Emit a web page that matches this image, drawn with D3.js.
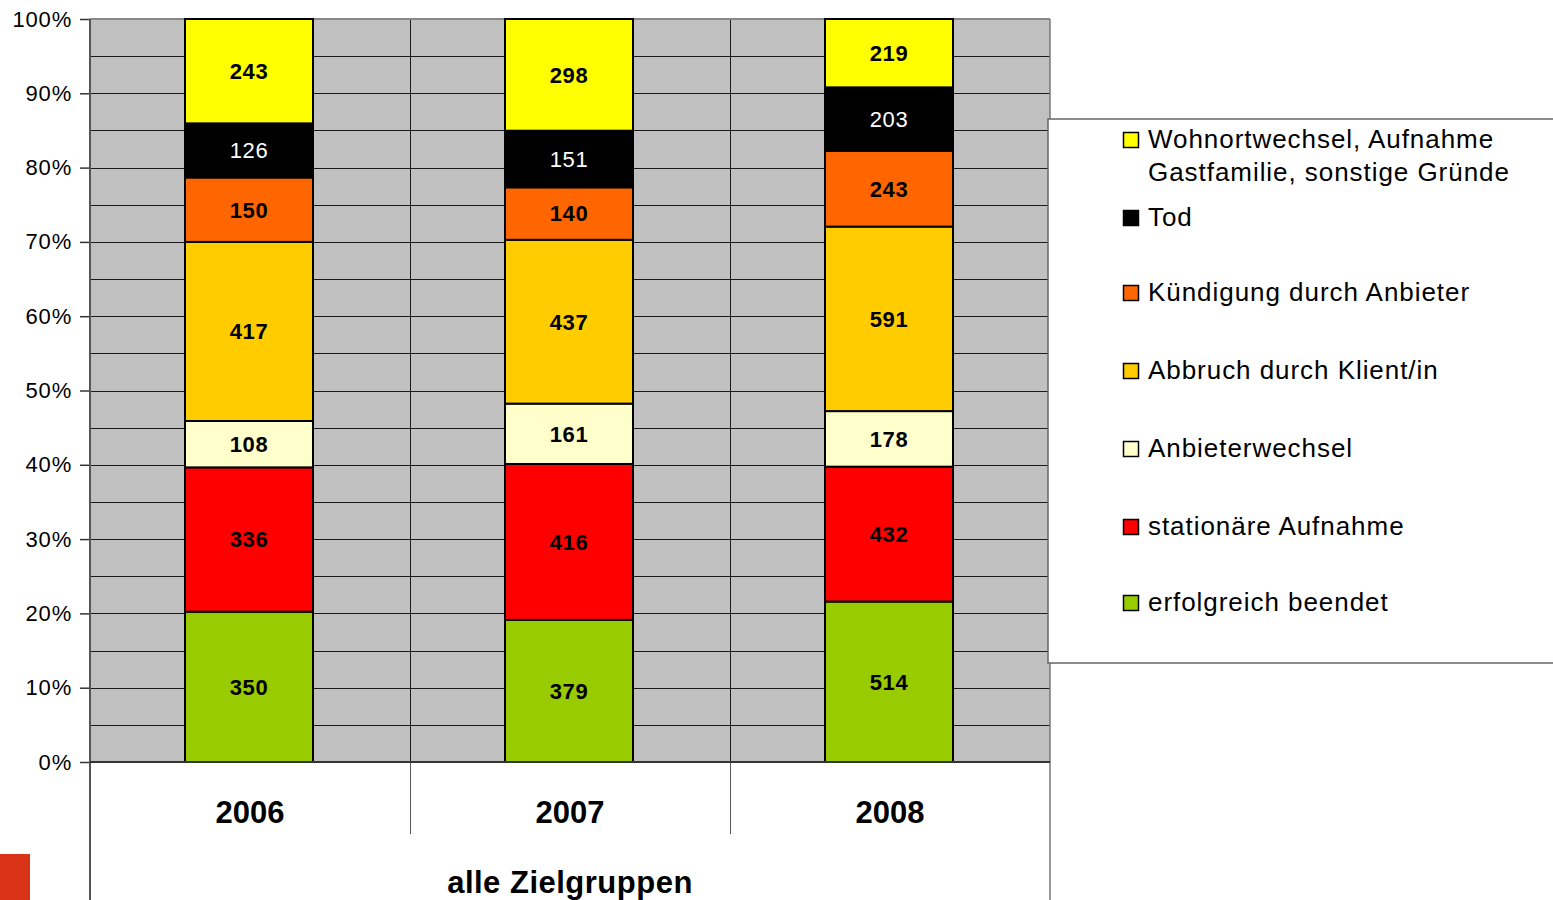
<!DOCTYPE html>
<html>
<head>
<meta charset="utf-8">
<script src="https://cdn.jsdelivr.net/npm/d3@7"></script>
<style>
  body { margin: 0; background: #fff; }
  svg { display: block; font-family: "Liberation Sans", Arial, Helvetica, sans-serif; }
</style>
</head>
<body>
<svg id="chart" width="1553" height="900"></svg>
<script>
// categories (years)
const years = ["2006", "2007", "2008"];

// series, bottom to top
const seriesNames = [
    "erfolgreich beendet",
    "stationäre Aufnahme",
    "Anbieterwechsel",
    "Abbruch durch Klient/in",
    "Kündigung durch Anbieter",
    "Tod",
    "Wohnortwechsel, Aufnahme Gastfamilie, sonstige Gründe"
];
const seriesColors = ["#99cc00", "#ff0000", "#ffffcc", "#ffcc00", "#ff6600", "#000000", "#ffff00"];

// counts per series, one value per year
const erfolgreich = [350, 379, 514];
const stationaer = [336, 416, 432];
const anbieterwechsel = [108, 161, 178];
const abbruch = [417, 437, 591];
const kuendigung = [150, 140, 243];
const tod = [126, 151, 203];
const wohnort = [243, 298, 219];

const yTicks = [0, 0.1, 0.2, 0.3, 0.4, 0.5, 0.6, 0.7, 0.8, 0.9, 1];
const xTitle = "alle Zielgruppen";

const seriesValues = [erfolgreich, stationaer, anbieterwechsel, abbruch, kuendigung, tod, wohnort];

const svg = d3.select("#chart");
const plot = { left: 90, right: 1050, top: 19, bottom: 762 };

const x = d3.scaleBand().domain(years).range([plot.left, plot.right]).paddingInner(0).paddingOuter(0);
const y = d3.scaleLinear().domain([0, 1]).range([plot.bottom, plot.top]);
const barWidth = 128;

// plot background
svg.append("rect")
    .attr("x", plot.left)
    .attr("y", plot.top)
    .attr("width", plot.right - plot.left)
    .attr("height", plot.bottom - plot.top)
    .attr("fill", "#c0c0c0");

// horizontal grid every 5%
const gridValues = d3.range(1, 20).map(d => d * 0.05);
svg.append("g")
    .selectAll("line")
    .data(gridValues)
    .enter()
    .append("line")
    .attr("x1", plot.left)
    .attr("x2", plot.right)
    .attr("y1", d => Math.round(y(d)) + 0.5)
    .attr("y2", d => Math.round(y(d)) + 0.5)
    .attr("stroke", "#1a1a1a")
    .attr("stroke-width", 1);

// vertical category separators (inside plot and below axis)
years.slice(1).forEach(yr => {
    const xx = Math.round(x(yr)) + 0.5;
    svg.append("line")
        .attr("x1", xx).attr("x2", xx)
        .attr("y1", plot.top).attr("y2", plot.bottom)
        .attr("stroke", "#1a1a1a");
    svg.append("line")
        .attr("x1", xx).attr("x2", xx)
        .attr("y1", plot.bottom).attr("y2", 834)
        .attr("stroke", "#555");
});

// plot border top / right
svg.append("line")
    .attr("x1", plot.left).attr("x2", plot.right)
    .attr("y1", plot.top).attr("y2", plot.top)
    .attr("stroke", "#888").attr("stroke-width", 2);
svg.append("line")
    .attr("x1", plot.right).attr("x2", plot.right)
    .attr("y1", plot.top).attr("y2", 900)
    .attr("stroke", "#777").attr("stroke-width", 1.5);

// stacked percentage data
const table = years.map((yr, i) => {
    const row = { year: yr };
    seriesNames.forEach((name, s) => { row[name] = seriesValues[s][i]; });
    return row;
});
const stack = d3.stack().keys(seriesNames).offset(d3.stackOffsetExpand);
const layers = stack(table);

layers.forEach((layer, s) => {
    const g = svg.append("g");
    layer.forEach((d, i) => {
        const cx = x(years[i]) + x.bandwidth() / 2 - 1;
        const y0 = y(d[0]);
        const y1 = y(d[1]);
        g.append("rect")
            .attr("x", cx - barWidth / 2)
            .attr("y", y1)
            .attr("width", barWidth)
            .attr("height", y0 - y1)
            .attr("fill", seriesColors[s])
            .attr("stroke", "#000")
            .attr("stroke-width", 2);
        g.append("text")
            .text(seriesValues[s][i])
            .attr("x", cx)
            .attr("y", (y0 + y1) / 2)
            .attr("dy", "0.36em")
            .attr("text-anchor", "middle")
            .attr("font-size", 22)
            .attr("letter-spacing", 0.6)
            .attr("font-weight", seriesNames[s] == "Tod" ? "normal" : "bold")
            .attr("fill", seriesNames[s] == "Tod" ? "#fff" : "#000");
    });
});

// y axis
const yAxis = svg.append("g")
    .attr("transform", "translate(" + plot.left + ",0)")
    .call(d3.axisLeft(y).tickValues(yTicks).tickFormat(d3.format(".0%")).tickSize(10).tickPadding(8));
yAxis.select(".domain").remove();
yAxis.selectAll(".tick line").attr("stroke", "#333").attr("stroke-width", 1.5);
yAxis.selectAll(".tick text")
    .attr("font-family", "Liberation Sans, Arial, sans-serif")
    .attr("font-size", 22)
    .attr("letter-spacing", 0.8)
    .attr("fill", "#000");

// left axis line running to the bottom
svg.append("line")
    .attr("x1", plot.left).attr("x2", plot.left)
    .attr("y1", plot.top).attr("y2", 900)
    .attr("stroke", "#555").attr("stroke-width", 2);

// x axis baseline
svg.append("line")
    .attr("x1", plot.left).attr("x2", plot.right)
    .attr("y1", plot.bottom).attr("y2", plot.bottom)
    .attr("stroke", "#333").attr("stroke-width", 2);

// category labels
svg.append("g")
    .selectAll("text")
    .data(years)
    .enter()
    .append("text")
    .text(d => d)
    .attr("x", d => x(d) + x.bandwidth() / 2)
    .attr("y", 823)
    .attr("text-anchor", "middle")
    .attr("font-size", 31)
    .attr("font-weight", "bold");

svg.append("text")
    .text(xTitle)
    .attr("x", (plot.left + plot.right) / 2)
    .attr("y", 893)
    .attr("text-anchor", "middle")
    .attr("font-size", 31)
    .attr("letter-spacing", 0.5)
    .attr("font-weight", "bold");

// legend
svg.append("rect")
    .attr("x", 1048)
    .attr("y", 119)
    .attr("width", 520)
    .attr("height", 544)
    .attr("fill", "#fff")
    .attr("stroke", "#666")
    .attr("stroke-width", 1.5);

const legendRows = [
    { s: 6, y: 139, lines: ["Wohnortwechsel, Aufnahme", "Gastfamilie, sonstige Gründe"] },
    { s: 5, y: 217, lines: ["Tod"] },
    { s: 4, y: 292, lines: ["Kündigung durch Anbieter"] },
    { s: 3, y: 370, lines: ["Abbruch durch Klient/in"] },
    { s: 2, y: 448, lines: ["Anbieterwechsel"] },
    { s: 1, y: 526, lines: ["stationäre Aufnahme"] },
    { s: 0, y: 602, lines: ["erfolgreich beendet"] }
];
const legend = svg.append("g");
legendRows.forEach(row => {
    legend.append("rect")
        .attr("x", 1123.5)
        .attr("y", row.y - 6.5)
        .attr("width", 15)
        .attr("height", 15)
        .attr("fill", seriesColors[row.s])
        .attr("stroke", "#000")
        .attr("stroke-width", 1.5);
    row.lines.forEach((ln, k) => {
        legend.append("text")
            .text(ln)
            .attr("x", 1148)
            .attr("y", row.y + k * 33)
            .attr("dy", "0.36em")
            .attr("font-size", 26)
            .attr("letter-spacing", 0.95);
    });
});

// red corner block
svg.append("rect")
    .attr("x", 0).attr("y", 854)
    .attr("width", 30).attr("height", 46)
    .attr("fill", "#d93318");
</script>
</body>
</html>
